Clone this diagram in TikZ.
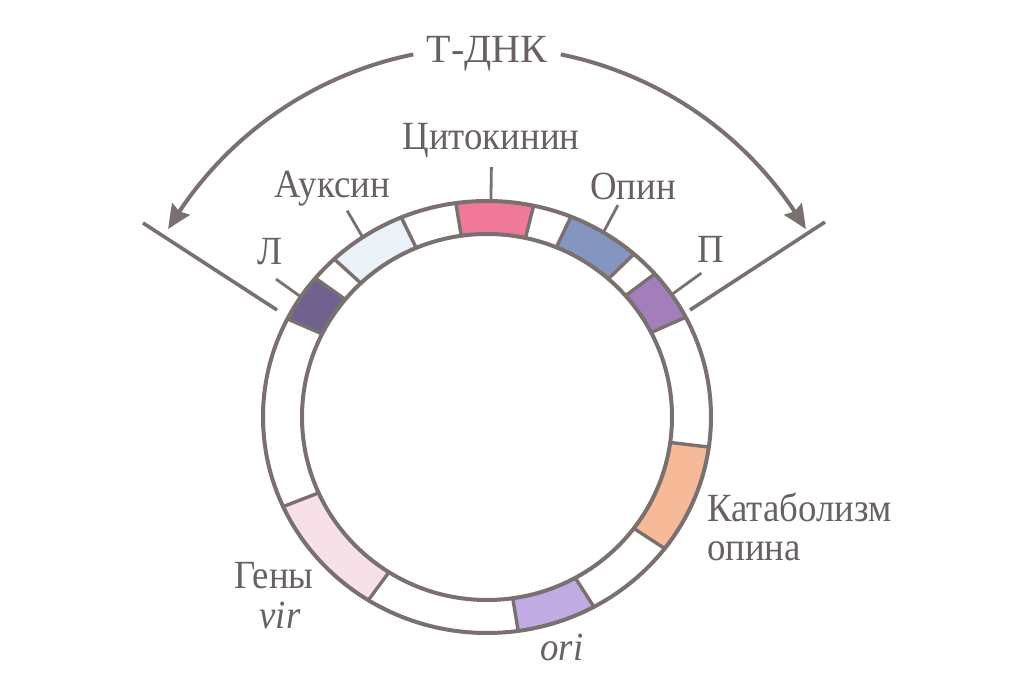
\documentclass[tikz,border=0pt]{standalone}
\usepackage{fontspec}
\setmainfont{Liberation Serif}
\newfontfamily\condfont[FakeStretch=0.92]{Liberation Serif}
\usetikzlibrary{arrows.meta,bending,calc}
\definecolor{ln}{RGB}{122,112,112}
\definecolor{txt}{RGB}{105,96,96}
\definecolor{cpink}{RGB}{240,120,152}
\definecolor{copin}{RGB}{132,150,192}
\definecolor{cP}{RGB}{162,126,186}
\definecolor{cL}{RGB}{112,98,142}
\definecolor{caux}{RGB}{236,243,248}
\definecolor{ccat}{RGB}{246,186,152}
\definecolor{cori}{RGB}{192,172,226}
\definecolor{cvir}{RGB}{248,224,232}
\newcommand\ringseg[3]{\fill[#3] ($(c)+(#1:224pt and 216pt)$) arc[start angle=#1,end angle=#2,x radius=224pt,y radius=216pt] -- ($(c)+(#2:185pt and 183pt)$) arc[start angle=#2,end angle=#1,x radius=185pt,y radius=183pt] -- cycle;}
\tikzset{
  ring/.style={draw=ln,line width=4pt},
  divider/.style={draw=ln,line width=3.4pt},
  leader/.style={draw=ln,line width=2.8pt},
  border/.style={draw=ln,line width=3.6pt},
  arrowline/.style={draw=ln,line width=4pt,-{Stealth[length=24pt,width=21pt,inset=3pt,bend]}},
  lab/.style={font=\condfont\fontsize{40}{44}\selectfont,text=txt,inner sep=0pt},
  itlab/.style={font=\condfont\fontsize{40}{44}\selectfont\itshape,text=txt,inner sep=0pt}
}
\begin{document}
\begin{tikzpicture}[x=1pt,y=1pt]
\useasboundingbox (0,0) rectangle (1021,697);
\fill[white] (0,0) rectangle (1021,697);
\coordinate (c) at (487,280);
% coloured segments
\ringseg{27.5}{41.5}{cP}
\ringseg{49}{68}{copin}
\ringseg{78}{98}{cpink}
\ringseg{112.5}{133}{caux}
\ringseg{140}{153}{cL}
\ringseg{204.5}{238}{cvir}
\ringseg{278}{298.5}{cori}
\ringseg{322.5}{352}{ccat}
% ring outlines
\draw[ring] (c) ellipse[x radius=224pt,y radius=216pt];
\draw[ring] (c) ellipse[x radius=185pt,y radius=183pt];
\foreach \a in {27.5,41.5,49,68,78,98,112.5,133,140,153,204.5,238,278,298.5,322.5,352}
  \draw[divider] ($(c)+(\a:185pt and 183pt)$) -- ($(c)+(\a:224pt and 216pt)$);
% labels
\node[lab,font=\fontsize{40}{44}\selectfont,anchor=base] (tdna) at (487,634) {Т-ДНК};
\node[lab,anchor=base] (cyto) at (491,547) {Цитокинин};
\node[lab,anchor=base] (aux) at (332,499) {Ауксин};
\node[lab,anchor=base] (opin) at (633,497) {Опин};
\node[lab,anchor=base] (L) at (270,432) {Л};
\node[lab,anchor=base] (P) at (711,434) {П};
\node[lab,anchor=base west] (cat) at (707,175) {Катаболизм};
\node[lab,anchor=base west] (cat2) at (707,136) {опина};
\node[lab,anchor=base] (geny) at (274,109) {Гены};
\node[itlab,anchor=base] (vir) at (280,69) {vir};
\node[itlab,anchor=base] (ori) at (562,37) {ori};
% leaders
\coordinate (cytoR) at ($(c)+(89:224pt and 216pt)$);
\coordinate (cytoO) at ($(c)+(89:252pt and 250pt)$);
\coordinate (auxR) at ($(c)+(123.7:224pt and 216pt)$);
\coordinate (auxO) at ($(c)+(123.7:252pt and 248pt)$);
\coordinate (opinR) at ($(c)+(58.7:224pt and 216pt)$);
\coordinate (opinO) at ($(c)+(58.7:252pt and 248pt)$);
\coordinate (LR) at ($(c)+(146.2:224pt and 216pt)$);
\coordinate (LO) at ($(c)+(146.2:254pt and 248pt)$);
\coordinate (PR) at ($(c)+(34.5:224pt and 216pt)$);
\coordinate (PO) at ($(c)+(34.5:260pt and 254pt)$);
\draw[leader] (cytoO) -- (cytoR);
\draw[leader] (auxO) -- (auxR);
\draw[leader] (opinO) -- (opinR);
\draw[leader] (LO) -- (LR);
\draw[leader] (PO) -- (PR);
% T-DNA borders
\coordinate (bl1) at (143,474); \coordinate (bl2) at (277,387);
\coordinate (br1) at (825,475); \coordinate (br2) at (690,387);
\draw[border] (bl1) -- (bl2);
\draw[border] (br1) -- (br2);
% arrows
\coordinate (al) at ($(c)+(101.5:370pt)$);
\coordinate (ar) at ($(c)+(78.5:370pt)$);
\draw[arrowline] (al) arc[start angle=101.5,end angle=149.5,radius=370pt];
\draw[arrowline] (ar) arc[start angle=78.5,end angle=30.5,radius=370pt];
\end{tikzpicture}
\end{document}
